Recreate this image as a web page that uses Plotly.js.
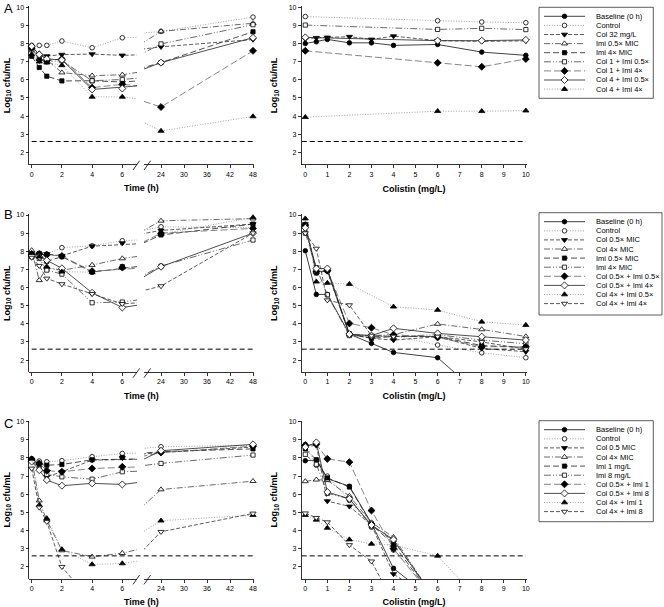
<!DOCTYPE html>
<html>
<head>
<meta charset="utf-8">
<script src="https://cdn.plot.ly/plotly-3.0.1.min.js"></script>
<style>html,body{margin:0;padding:0;background:#fff}#chart{width:664px;height:607px}</style>
</head>
<body>
<div id="chart"></div>
<script>
// ================= DATA =================
const times = [0, 0.5, 1, 2, 4, 6, 24, 48];           // h
const colistin = [0, 0.5, 1, 2, 3, 4, 6, 8, 10];      // mg/L
const LOD = 2.6;                                      // limit of detection (log10 cfu/mL)

const logTicks = [2, 3, 4, 5, 6, 7, 8, 9, 10];
const timeTicksEarly = [0, 2, 4, 6];
const timeTicksLate = [24, 30, 36, 42, 48];
const concTicks = [0, 1, 2, 3, 4, 5, 6, 7, 8, 9, 10];

const namesA = ['Baseline (0 h)', 'Control', 'Col 32 mg/L', 'Imi 0.5× MIC', 'Imi 4× MIC',
  'Col 1 + Imi 0.5×', 'Col 1 + Imi 4×', 'Col 4 + Imi 0.5×', 'Col 4 + Imi 4×'];
const namesB = ['Baseline (0 h)', 'Control', 'Col 0.5× MIC', 'Col 4× MIC', 'Imi 0.5× MIC', 'Imi 4× MIC',
  'Col 0.5× + Imi 0.5×', 'Col 0.5× + Imi 4×', 'Col 4× + Imi 0.5×', 'Col 4× + Imi 4×'];
const namesC = ['Baseline (0 h)', 'Control', 'Col 0.5 MIC', 'Col 4× MIC', 'Imi 1 mg/L', 'Imi 8 mg/L',
  'Col 0.5× + Imi 1', 'Col 0.5× + Imi 8', 'Col 4× + Imi 1', 'Col 4× + Imi 8'];

// ---- Panel A: time-kill (values at `times`) ----
const killA_control   = [7.90, 7.90, 7.90, 8.14, 7.77, 8.32, 8.67, 9.46];
const killA_col32     = [7.75, 7.35, 7.31, 7.39, 7.42, 7.35, 7.82, 8.22];
const killA_imi05     = [7.80, 7.45, 7.05, 6.40, 6.23, 6.28, 8.67, 9.12];
const killA_imi4      = [7.30, 6.68, 6.20, 5.94, 5.95, 5.88, 6.95, 8.65];
const killA_col1imi05 = [7.65, 7.30, 7.00, 7.05, 5.95, 6.02, 7.98, 9.04];
const killA_col1imi4  = [7.75, 7.10, 7.05, 7.15, 5.57, 5.75, 4.50, 7.60];
const killA_col4imi05 = [7.85, 7.40, 7.15, 7.10, 5.47, 5.52, 6.95, 8.32];
const killA_col4imi4  = [7.40, 7.00, 6.95, 6.80, 5.06, 5.06, 3.18, 3.98];
// ---- Panel A: population analysis (values at `colistin`) ----
const papA_baseline   = [8.00, 8.10, 8.23, 8.04, 8.04, 7.90, 7.95, 7.53, 7.35];
const papA_control    = [9.49, null, null, null, null, null, 9.26, 9.19, 9.15];
const papA_col32      = [8.25, 8.32, 8.34, 8.38, 8.23, 8.41, 8.16, 8.12, 8.15];
const papA_col1imi05  = [9.02, null, null, null, null, null, 8.78, 8.84, 8.77];
const papA_col1imi4   = [7.60, null, null, null, null, null, 6.94, 6.72, 7.15];
const papA_col4imi05  = [8.34, null, null, null, null, null, 8.16, 8.16, 8.20];
const papA_col4imi4   = [3.94, null, null, null, null, null, 4.27, 4.27, 4.30];

// ---- Panel B: time-kill ----
const killB_control   = [7.80, 7.85, 7.85, 8.20, 8.30, 8.58, 9.35, 9.30];
const killB_col05     = [7.90, 7.85, 7.85, 7.75, 8.28, 8.45, 9.15, 9.50];
const killB_col4      = [8.05, 6.40, 7.10, 6.95, 7.24, 7.60, 9.68, 9.80];
const killB_imi05     = [7.75, 7.88, 7.45, 7.70, 6.85, 7.15, 8.90, 9.50];
const killB_imi4      = [7.70, 7.60, 6.96, 6.74, 5.16, 5.20, 7.18, 8.62];
const killB_c05i05    = [7.80, 7.85, 7.80, 7.74, 6.90, 7.10, 9.00, 9.26];
const killB_c05i4     = [7.75, 7.70, 7.50, 7.06, 5.71, 4.90, 7.15, 9.00];
const killB_c4i05     = [7.90, 7.70, 7.15, 6.87, 6.85, 7.10, 8.95, 9.87];
const killB_c4i4      = [7.65, 7.20, 6.50, 6.19, 5.65, 5.10, 6.08, 9.00];
// ---- Panel B: population analysis ----
const papB_baseline   = [8.03, 5.62, 5.62, 3.43, 2.92, 2.42, 2.13, 0.00, 0.00];
const papB_control    = [9.30, 7.05, 7.00, 3.40, 3.30, 3.35, 2.83, 2.40, 2.13];
const papB_col05      = [9.50, 6.85, 6.90, 3.40, 3.20, 3.10, 3.29, 2.64, 2.46];
const papB_col4       = [9.45, 6.85, 6.95, 3.40, 3.35, 3.40, 3.99, 3.69, 3.30];
const papB_imi05      = [9.45, 6.80, 6.93, 3.45, 3.20, 3.30, 3.30, 2.80, 2.70];
const papB_imi4       = [9.00, 7.10, 5.60, 3.35, 3.30, 3.30, 3.40, 3.10, 2.90];
const papB_c05i05     = [9.45, 6.87, 6.93, 4.02, 3.78, 3.40, 3.25, 2.74, 2.73];
const papB_c05i4      = [9.30, 7.05, 7.05, 3.43, 3.35, 3.75, 3.47, 3.29, 3.10];
const papB_c4i05      = [9.80, 6.32, 6.25, 6.19, null, 4.94, 4.76, 4.11, 3.93];
const papB_c4i4       = [9.00, 8.15, 5.30, 5.03, 3.35, 3.30, 3.30, 3.00, 2.60];

// ---- Panel C: time-kill ----
const killC_control   = [7.97, 7.83, 7.79, 7.85, 8.07, 8.25, 8.62, 8.70];
const killC_col05     = [7.90, 7.60, 6.96, 7.24, 7.88, 8.00, 8.30, 8.60];
const killC_col4      = [7.95, 5.65, 4.55, 2.90, 2.55, 2.75, 6.26, 6.72];
const killC_imi1      = [7.90, 7.64, 7.60, 7.64, 7.90, 8.03, 8.35, 8.50];
const killC_imi8      = [7.85, 7.40, 7.10, 6.96, 6.83, 7.24, 7.70, 8.16];
const killC_c05i1     = [7.90, 7.70, 7.30, 7.24, 7.42, 7.51, 8.30, 8.65];
const killC_c05i8     = [7.80, 7.33, 6.78, 6.47, 6.60, 6.54, 8.40, 8.75];
const killC_c4i1      = [7.95, 5.40, 4.67, 2.96, 2.13, 2.18, 4.54, 4.85];
const killC_c4i8      = [7.42, 5.27, 4.48, 2.00, 0.00, 0.00, 3.93, 4.94];
// ---- Panel C: population analysis ----
const papC_baseline   = [7.85, 7.88, 6.86, 6.44, 4.40, 1.91, 0.00, 0.00, 0.00];
const papC_control    = [8.75, 7.60, 7.00, 5.66, 4.18, 2.92, 0.00, 0.00, 0.00];
const papC_col05      = [8.60, 8.71, 5.62, 5.33, 4.30, 1.60, 0.00, 0.00, 0.00];
const papC_col4       = [6.71, 6.80, 6.77, 5.90, 4.44, 3.63, 0.00, 0.00, 0.00];
const papC_imi1       = [8.50, 7.90, 6.90, 6.40, 4.35, 3.22, 0.00, 0.00, 0.00];
const papC_imi8       = [8.20, 7.65, 6.05, 5.75, 4.25, 3.45, 0.00, 0.00, 0.00];
const papC_c05i1      = [8.70, 8.75, 7.95, 7.77, 5.10, 3.00, 0.00, 0.00, 0.00];
const papC_c05i8      = [8.60, 8.86, 6.12, 5.75, 4.30, 3.50, 0.00, 0.00, 0.00];
const papC_c4i1       = [4.85, 4.59, 4.14, 3.50, 3.26, 3.20, 2.60, 0.00, 0.00];
const papC_c4i8       = [4.95, 4.70, 4.46, 3.20, 2.30, 0.00, 0.00, 0.00, 0.00];

// series lists in legend order (null = not drawn in that plot)
const killA = [null, killA_control, killA_col32, killA_imi05, killA_imi4, killA_col1imi05, killA_col1imi4, killA_col4imi05, killA_col4imi4];
const papA  = [papA_baseline, papA_control, papA_col32, null, null, papA_col1imi05, papA_col1imi4, papA_col4imi05, papA_col4imi4];
const killB = [null, killB_control, killB_col05, killB_col4, killB_imi05, killB_imi4, killB_c05i05, killB_c05i4, killB_c4i05, killB_c4i4];
const papB  = [papB_baseline, papB_control, papB_col05, papB_col4, papB_imi05, papB_imi4, papB_c05i05, papB_c05i4, papB_c4i05, papB_c4i4];
const killC = [null, killC_control, killC_col05, killC_col4, killC_imi1, killC_imi8, killC_c05i1, killC_c05i8, killC_c4i1, killC_c4i8];
const papC  = [papC_baseline, papC_control, papC_col05, papC_col4, papC_imi1, papC_imi8, papC_c05i1, papC_c05i8, papC_c4i1, papC_c4i8];

// ================= STYLE / LAYOUT =================
const W = 664, H = 607;
const FONT = 'Liberation Sans, Arial, Helvetica, sans-serif';
const styles = [
  {sym: 'circle',        fill: true,  dash: 'solid',            color: '#111', size: 4.6},
  {sym: 'circle',        fill: false, dash: '1px,1.6px',        color: '#8a8a8a', size: 4.6},
  {sym: 'triangle-down', fill: true,  dash: '4px,2px',          color: '#333', size: 5.4},
  {sym: 'triangle-up',   fill: false, dash: '6px,2px,1px,2px',  color: '#444', size: 5.4},
  {sym: 'square',        fill: true,  dash: '6px,3px',          color: '#222', size: 4.2},
  {sym: 'square',        fill: false, dash: '7px,2px,1px,2px,1px,2px', color: '#444', size: 4.2},
  {sym: 'diamond',       fill: true,  dash: '7px,3px',          color: '#666', size: 5.4},
  {sym: 'diamond',       fill: false, dash: 'solid',            color: '#222', size: 5.4},
  {sym: 'triangle-up',   fill: true,  dash: '1px,1.6px',        color: '#8a8a8a', size: 5.4},
  {sym: 'triangle-down', fill: false, dash: '4px,2px',          color: '#333', size: 5.4}
];

const yRange = [1.33, 10.05];
const rowsPx = [{top: 6.4, bot: 164.5}, {top: 214.1, bot: 372.2}, {top: 420.8, bot: 578.9}];
const earlyPx = [29.3, 137], latePx = [144, 253.5], rightPx = [301.7, 526.5];
const earlyRange = [-0.159, 6.974], lateRange = [19.565, 48.13], rightRange = [-0.163, 10.03];
const legendBoxes = [[539, 7.3, 653.3, 98.3], [539, 212.7, 662, 315], [539, 420.7, 653.3, 521.7]];
const letterPos = [[1.5, 8.3], [1.5, 214.2], [1.5, 423.3]];

const panels = [
  {letter: 'A', names: namesA, kill: killA, pap: papA},
  {letter: 'B', names: namesB, kill: killB, pap: papB},
  {letter: 'C', names: namesC, kill: killC, pap: papC}
];

const axKey = (l, n) => n === 1 ? l + 'axis' : l + 'axis' + n;
const axRef = (l, n) => n === 1 ? l : l + n;
const pxX = v => v / W;
const pxY = v => 1 - v / H;
const valToPx = (v, range, pxr) => pxr[0] + (v - range[0]) / (range[1] - range[0]) * (pxr[1] - pxr[0]);

const tickFont = {family: FONT, size: 7, color: '#000'};
const titleFont = {family: FONT, size: 9, color: '#000', weight: 'bold'};
const common = {showgrid: false, zeroline: false, showline: true, linecolor: '#000', linewidth: 0.8,
  ticks: 'outside', ticklen: 3, tickwidth: 0.8, tickcolor: '#000', tickfont: tickFont,
  automargin: false, fixedrange: true, tickmode: 'array'};

const layout = {
  width: W, height: H, margin: {l: 0, r: 0, t: 0, b: 0},
  paper_bgcolor: '#fff', plot_bgcolor: 'rgba(0,0,0,0)', showlegend: false,
  font: {family: FONT, color: '#000'}, shapes: [], annotations: []
};
const traces = [];

function markerStyle(st, opac) {
  return {symbol: st.sym, size: st.size, color: st.fill ? '#000' : '#fff', opacity: opac,
          line: {color: '#000', width: 0.8}};
}

panels.forEach((p, r) => {
  const xe = 3 * r + 1, xl = 3 * r + 2, xr = 3 * r + 3, yl = 2 * r + 1, yr = 2 * r + 2, xt = 10 + r;
  const rp = rowsPx[r];
  const ydom = [pxY(rp.bot), pxY(rp.top)];

  layout[axKey('y', yl)] = Object.assign({}, common, {domain: ydom, range: yRange, anchor: axRef('x', xe),
    tickvals: logTicks, title: {text: 'Log<sub>10</sub> cfu/mL', font: titleFont, standoff: 4}});
  layout[axKey('x', xe)] = Object.assign({}, common, {domain: [pxX(earlyPx[0]), pxX(earlyPx[1])], range: earlyRange,
    anchor: axRef('y', yl), tickvals: timeTicksEarly});
  layout[axKey('x', xl)] = Object.assign({}, common, {domain: [pxX(latePx[0]), pxX(latePx[1])], range: lateRange,
    anchor: axRef('y', yl), tickvals: timeTicksLate});
  layout[axKey('x', xt)] = {domain: [pxX(earlyPx[0]), pxX(latePx[1])], range: [0, 1], anchor: axRef('y', yl),
    showline: false, showgrid: false, zeroline: false, ticks: '', showticklabels: false, automargin: false,
    fixedrange: true, title: {text: 'Time (h)', font: titleFont, standoff: 20}};
  layout[axKey('x', xr)] = Object.assign({}, common, {domain: [pxX(rightPx[0]), pxX(rightPx[1])], range: rightRange,
    anchor: axRef('y', yr), tickvals: concTicks, title: {text: 'Colistin (mg/L)', font: titleFont, standoff: 8}});
  layout[axKey('y', yr)] = Object.assign({}, common, {domain: ydom, range: yRange, anchor: axRef('x', xr),
    tickvals: logTicks, title: {text: 'Log<sub>10</sub> cfu/mL', font: titleFont, standoff: 9}});

  traces.push({type: 'scatter', x: [], y: [], xaxis: axRef('x', xt), yaxis: axRef('y', yl), showlegend: false, hoverinfo: 'skip'});

  // time-kill series: drawn on both segments of the broken time axis
  p.kill.forEach((vals, i) => {
    if (!vals) return;
    const st = styles[i];
    [[xe, earlyRange], [xl, lateRange]].forEach(([xa, rg]) => {
      const opac = times.map((t, k) => (t >= rg[0] && t <= rg[1] && vals[k] !== null && vals[k] >= yRange[0]) ? 1 : 0);
      traces.push({type: 'scatter', mode: 'lines+markers', x: times, y: vals, name: p.names[i],
        xaxis: axRef('x', xa), yaxis: axRef('y', yl), cliponaxis: false, connectgaps: true,
        line: {color: st.color, width: 0.8, dash: st.dash}, marker: markerStyle(st, opac), showlegend: false});
    });
  });
  // population analysis series
  p.pap.forEach((vals, i) => {
    if (!vals) return;
    const st = styles[i];
    const opac = vals.map(v => (v !== null && v >= yRange[0]) ? 1 : 0);
    traces.push({type: 'scatter', mode: 'lines+markers', x: colistin, y: vals, name: p.names[i],
      xaxis: axRef('x', xr), yaxis: axRef('y', yr), cliponaxis: false, connectgaps: true,
      line: {color: st.color, width: 0.8, dash: st.dash}, marker: markerStyle(st, opac), showlegend: false});
  });

  // limit of detection lines
  layout.shapes.push({type: 'line', xref: 'paper', yref: axRef('y', yl),
    x0: pxX(valToPx(times[0], earlyRange, earlyPx)), x1: pxX(valToPx(times[times.length - 1], lateRange, latePx)),
    y0: LOD, y1: LOD, line: {color: '#000', width: 1, dash: '5px,3px'}});
  layout.shapes.push({type: 'line', xref: 'paper', yref: axRef('y', yr),
    x0: pxX(rightPx[0]), x1: pxX(valToPx(concTicks[concTicks.length - 1], rightRange, rightPx)),
    y0: LOD, y1: LOD, line: {color: '#000', width: 1, dash: '5px,3px'}});

  // axis break marks
  [133, 144].forEach(bx => {
    layout.shapes.push({type: 'line', xref: 'paper', yref: 'paper',
      x0: pxX(bx), y0: pxY(rp.bot + 5.5), x1: pxX(bx + 6.6), y1: pxY(rp.bot - 3.8),
      line: {color: '#000', width: 0.8}});
  });

  // panel letter
  layout.annotations.push({text: p.letter, xref: 'paper', yref: 'paper', x: pxX(letterPos[r][0]), y: pxY(letterPos[r][1]),
    xanchor: 'left', yanchor: 'middle', showarrow: false, font: {family: FONT, size: 13, color: '#000'}});

  // legend (drawn box, samples on a pixel-scaled hidden axis, text labels)
  const bx = legendBoxes[r];
  layout.shapes.push({type: 'rect', xref: 'paper', yref: 'paper', x0: pxX(bx[0]), x1: pxX(bx[2]),
    y0: pxY(bx[3]), y1: pxY(bx[1]), line: {color: '#333', width: 0.8}, fillcolor: 'rgba(0,0,0,0)'});
  p.names.forEach((nm, i) => {
    const st = styles[i];
    const yc = bx[1] + 9 + i * 9.1;
    traces.push({type: 'scatter', mode: 'lines+markers', x: [544, 564.5, 585], y: [yc, yc, yc],
      xaxis: 'x13', yaxis: 'y7', cliponaxis: false, showlegend: false, hoverinfo: 'skip',
      line: {color: st.color, width: 0.8, dash: st.dash}, marker: markerStyle(st, [0, 1, 0])});
    layout.annotations.push({text: nm, xref: 'paper', yref: 'paper', x: pxX(594), y: pxY(yc),
      xanchor: 'left', yanchor: 'middle', showarrow: false, font: {family: FONT, size: 7.5, color: '#000'}});
  });
});

layout.xaxis13 = {domain: [0, 1], range: [0, W], anchor: 'y7', visible: false, fixedrange: true};
layout.yaxis7 = {domain: [0, 1], range: [H, 0], anchor: 'x13', visible: false, fixedrange: true};

Plotly.newPlot('chart', traces, layout, {displayModeBar: false, staticPlot: true});
</script>
</body>
</html>
